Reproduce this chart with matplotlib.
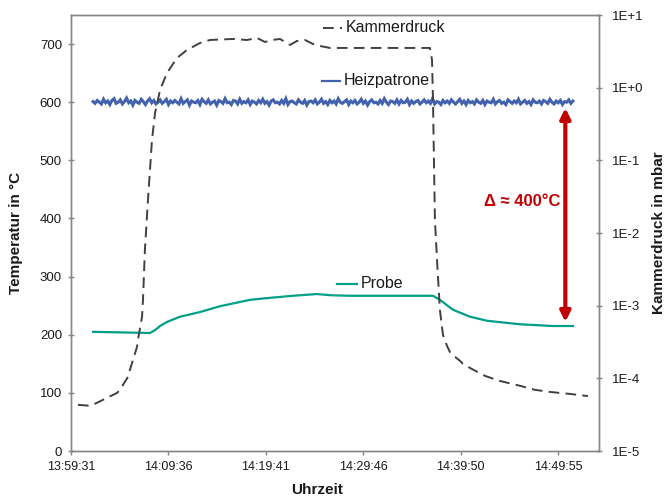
import numpy as np
import matplotlib
matplotlib.use("Agg")
import matplotlib.pyplot as plt
from matplotlib.lines import Line2D

plt.rcParams['font.family'] = ['Liberation Sans', 'DejaVu Sans']

# ---- data (x in seconds after 13:59:31) ----
x_tick_labels = ["13:59:31", "14:09:36", "14:19:41", "14:29:46", "14:39:50", "14:49:55"]
x_tick_step = 604.8
x_max = 3279

druck_t = [43, 118, 161, 286, 304, 354, 366, 410, 416, 441, 447, 459, 478, 503, 522, 553, 596,
           658, 720, 801, 863, 1006, 1093, 1155, 1205, 1248, 1298, 1360, 1403, 1453, 1503, 1546,
           1608, 2229, 2242, 2248, 2254, 2260, 2273, 2291, 2310, 2335, 2353, 2384, 2416, 2434,
           2478, 2571, 2664, 2788, 2881, 2974, 3099, 3210]
druck_p = [4.32e-5, 4.19e-5, 4.6e-5, 6.3e-5, 6.95e-5, 1.05e-4, 1.31e-4, 2.71e-4, 3.39e-4, 7.0e-4,
           1.2e-3, 5.86e-3, 2.85e-2, 0.191, 0.449, 0.93, 1.59, 2.56, 3.30, 4.12, 4.53, 4.68, 4.53,
           4.83, 4.25, 4.53, 4.68, 3.87, 4.39, 4.53, 3.99, 3.75, 3.52, 3.52, 2.41, 0.678, 0.101,
           1.51e-2, 4.27e-3, 8.75e-4, 3.97e-4, 2.80e-4, 2.31e-4, 1.98e-4, 1.74e-4, 1.58e-4,
           1.39e-4, 1.08e-4, 9.2e-5, 7.9e-5, 6.95e-5, 6.5e-5, 6.1e-5, 5.7e-5]

probe_t = [137, 491, 522, 553, 596, 677, 801, 925, 1111, 1217, 1378, 1528, 1608, 1732, 2248,
           2291, 2372, 2478, 2584, 2788, 2993, 3117]
probe_T = [205, 203, 208, 215, 222, 231, 239, 249, 260, 263, 267, 270, 268, 267, 267,
           260, 243, 231, 224, 218, 215, 215]

heiz_start, heiz_end = 137, 3117
heiz_T = [601,598,603,600,597,605,599,602,596,603,606,598,600,604,597,601,607,599,602,595,
          603,600,598,605,601,596,602,606,599,603,597,600,604,598,601,605,596,602,599,603,
          600,597,606,598,601,604,595,602,600,599,603,596,605,601,598,604,597,600,602,595,
          603,601,598,606,599,600,596,603,602,597,605,598,601,599,604,596,602,600,597,603,
          599,605,598,601,595,602,604,599,600,597,603,598,606,596,601,602,599,597,604,600,
          598,603,595,601,602,599,604,597,600,605,598,601,596,603,599,602,597,606,600,598,
          601,604,596,602,599,603,597,600,605,598,602,595,601,604,599,600,597,603,598,606,
          600,596,602,601,598,604,597,603,599,600,605,596,602,598,601,603,597,600,604,599,
          602,598,606,597,601,600,596,603,599,602,598,604,600,597,601,605,598,602,596,603,
          599,601,597,604,600,598,603,596,602,600,599,605,597,601,603,598,600,596,604,601,
          598,602,599,605,597,600,603,598,601,596,604,600,599,602,597,603,601,598,605,600,
          597,602,599,603,596,601,600,604,598,602]

arrow_t = 3070
arrow_top, arrow_bottom = 590, 222
delta_text = "Δ ≈ 400°C"

# ---- figure ----
W, H = 669, 498
fig = plt.figure(figsize=(W / 100, H / 100), dpi=100)
L, R, T, B = 71, 599, 15, 451
ax = fig.add_axes([L / W, 1 - B / H, (R - L) / W, (B - T) / H])
ax2 = ax.twinx()

gray = '#868686'
txt = '#1a1a1a'
blue = '#4262AE'
teal = '#00A088'
dark = '#404040'
red = '#C00000'

heiz_x = np.linspace(heiz_start, heiz_end, len(heiz_T))
ax.plot(heiz_x, heiz_T, color=blue, lw=2.2, zorder=3, solid_joinstyle='miter')
ax.plot(probe_t, probe_T, color=teal, lw=1.6, zorder=3)
ax2.plot(druck_t, druck_p, color=dark, lw=1.4, dashes=(5.5, 3.2), zorder=2)

ax.set_xlim(0, x_max)
ax.set_ylim(0, 750)
ax.set_yticks(range(0, 701, 100))
ax.set_xticks([i * x_tick_step for i in range(len(x_tick_labels))])
ax.set_xticklabels(x_tick_labels)

ax2.set_yscale('log')
ax2.set_ylim(1e-5, 10)
ax2.set_yticks([10.0 ** k for k in range(-5, 2)])
ax2.set_yticklabels(["1E-5", "1E-4", "1E-3", "1E-2", "1E-1", "1E+0", "1E+1"])
ax2.yaxis.set_minor_locator(matplotlib.ticker.NullLocator())

for a in (ax, ax2):
    for s in a.spines.values():
        s.set_color(gray)
        s.set_linewidth(1.0)

ax.tick_params(axis='y', direction='inout', length=5, width=1, color=gray,
               labelsize=9.5, labelcolor=txt, pad=4)
ax.tick_params(axis='x', direction='out', length=3, width=1, color=gray,
               labelsize=9, labelcolor=txt, pad=4)
ax2.tick_params(axis='y', direction='inout', length=5, width=1, color=gray,
                labelsize=9.5, labelcolor=txt, pad=7)

ax.set_ylabel("Temperatur in °C", fontsize=11, fontweight='bold', color=txt, labelpad=12)
ax2.set_ylabel("Kammerdruck in mbar", fontsize=11, fontweight='bold', color=txt, labelpad=6)
fig.text(317 / W, 1 - 490 / H, "Uhrzeit", fontsize=11, fontweight='bold', color=txt,
         ha='center', va='center')

# arrow and annotation
ax.annotate("", xy=(arrow_t, arrow_top), xytext=(arrow_t, arrow_bottom),
            arrowprops=dict(arrowstyle='<|-|>', color=red, lw=3, mutation_scale=15,
                            shrinkA=0, shrinkB=0), zorder=5)
fig.text(522 / W, 1 - 202 / H, delta_text, fontsize=12, fontweight='bold', color=red,
         ha='center', va='center')

# legend-like labels
def legend_item(x0, x1, y, label, **kw):
    fig.add_artist(Line2D([x0 / W, x1 / W], [1 - y / H, 1 - y / H], transform=fig.transFigure, **kw))
    fig.text((x1 + 4) / W, 1 - y / H, label, fontsize=11.5, color=txt, ha='left', va='center')

legend_item(323, 342, 28, "Kammerdruck", color=dark, lw=1.4, dashes=(5.5, 3.2))
legend_item(322, 340, 81, "Heizpatrone", color=blue, lw=1.6)
legend_item(337, 357, 284, "Probe", color=teal, lw=1.6)

fig.savefig("out.png", dpi=100)
